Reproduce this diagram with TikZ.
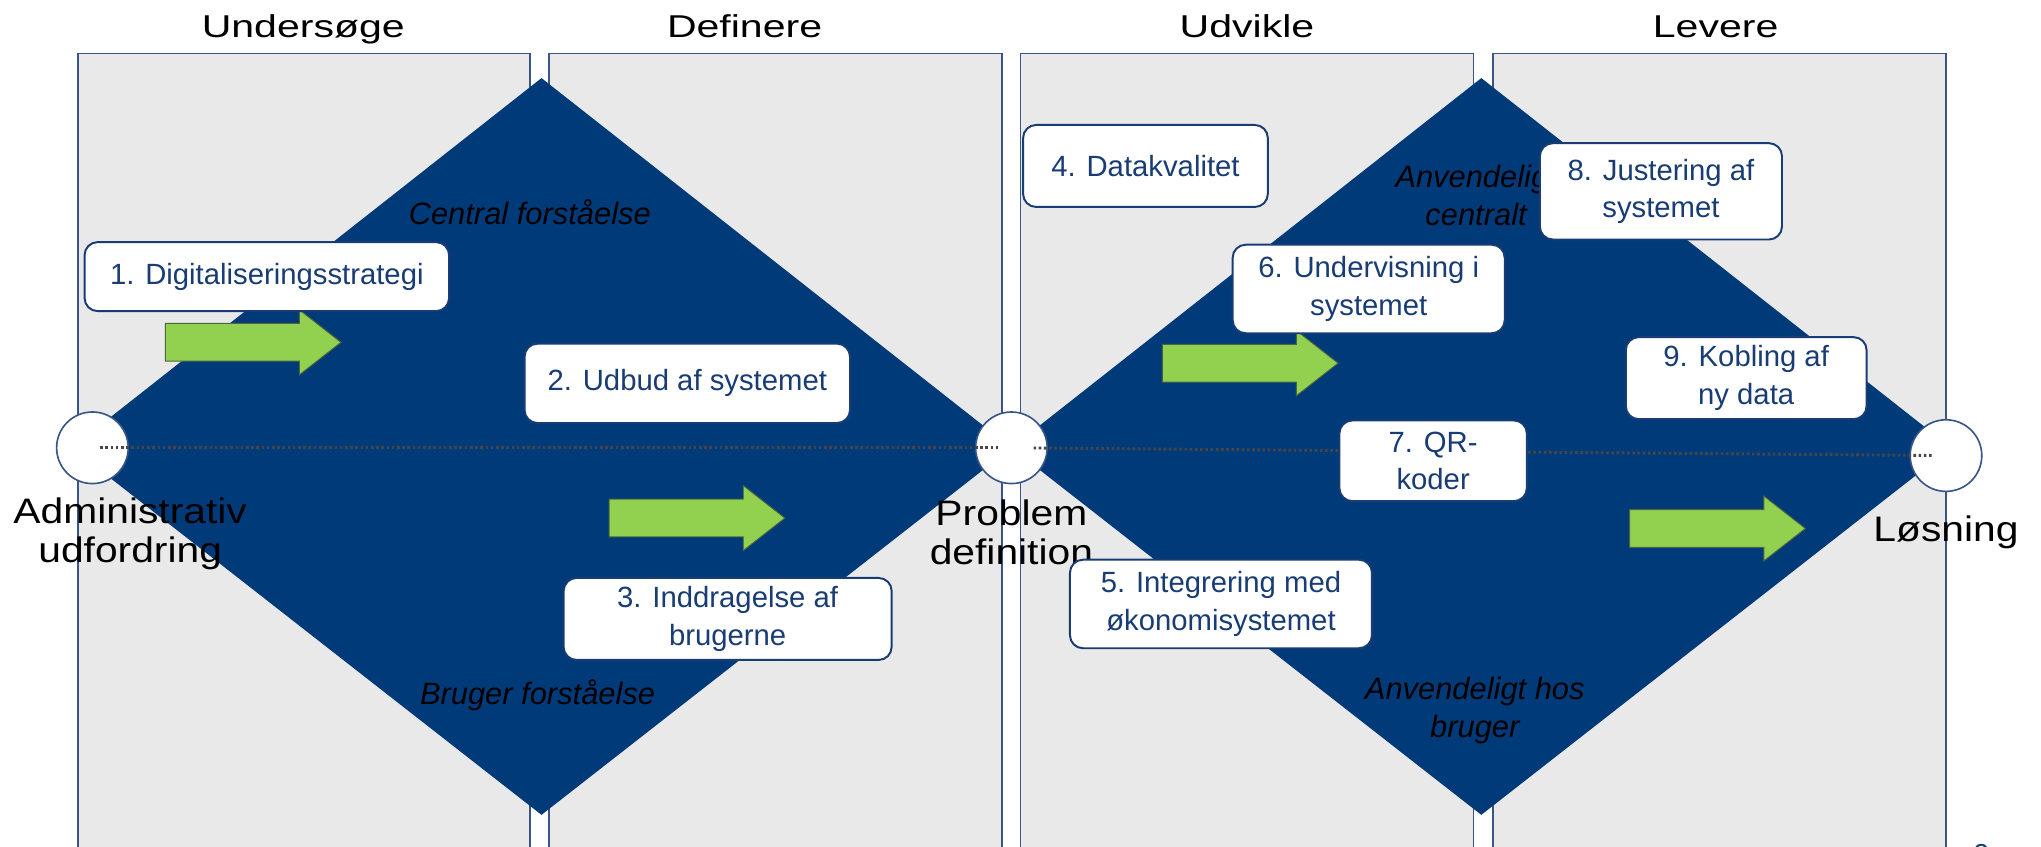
\documentclass[tikz,border=0pt]{standalone}
\usepackage{fontspec}
\setmainfont{Liberation Sans}
\newfontfamily\widefont{Liberation Sans}[FakeStretch=1.3]
\newfontfamily\labelfont{Liberation Sans}[FakeStretch=1.15]
\usetikzlibrary{positioning}

\definecolor{navy}{RGB}{0,58,120}
\definecolor{panelgray}{RGB}{233,233,233}
\definecolor{edgeblue}{RGB}{55,85,135}
\definecolor{boxblue}{RGB}{24,60,115}
\definecolor{leaf}{RGB}{146,208,80}
\definecolor{leafedge}{RGB}{75,100,65}
\definecolor{dotgray}{RGB}{70,70,70}

\begin{document}
\begin{tikzpicture}[x=0.2mm,y=-0.2mm,
   panel/.style={draw=edgeblue,line width=0.25mm,fill=panelgray},
   phase/.style={font=\widefont\fontsize{13.8}{16}\selectfont,anchor=base},
   task/.style={draw=boxblue,line width=0.3mm,fill=white,rounded corners=2mm,
      text=boxblue,align=center,inner sep=0pt,font=\fontsize{12.8}{16.5}\selectfont},
   focus/.style={font=\itshape\fontsize{13.5}{16.5}\selectfont,align=center},
   milestone/.style={circle,draw=edgeblue,line width=0.25mm,fill=white,
      minimum size=11mm,inner sep=0pt},
   biglabel/.style={font=\labelfont\fontsize{15.5}{17}\selectfont,align=center,inner sep=0pt},
   dotline/.style={draw=dotgray,line width=0.45mm,dash pattern=on 0.4mm off 0.4mm},
   arrowgreen/.style={fill=leaf,draw=leafedge,line width=0.15mm},
   pics/greenarrow/.style={code={
      \draw[arrowgreen] (0,-14.5) -- (103,-14.5) -- (103,-25) -- (135,0)
         -- (103,25) -- (103,14.5) -- (0,14.5) -- cycle;}}]
   \useasboundingbox (0,0) rectangle (1568,650);
   \clip (0,0) rectangle (1568,650);

   % phase panels
   \draw[panel] (60,41) rectangle (407,700);
   \draw[panel] (422,41) rectangle (770,700);
   \draw[panel] (784,41) rectangle (1132,700);
   \draw[panel] (1147,41) rectangle (1495,700);

   % double diamond
   \fill[navy] (55,344) -- (416,60) -- (777,344) -- (416,626) -- cycle;
   \fill[navy] (777,344) -- (1138,60) -- (1499,344) -- (1138,626) -- cycle;

   \node[focus] (cf) at (407,163) {Central forståelse};
   \node[focus] (bf) at (413,534) {Bruger forståelse};
   \node[focus] (ac) at (1134,150) {Anvendeligt\\centralt};
   \node[focus] (ab) at (1133,546) {Anvendeligt hos\\bruger};

   % milestones on the centre line
   \node[milestone] (c1) at (71,344) {};
   \node[milestone] (c2) at (777,344) {};
   \node[milestone] (c3) at (1495,350) {};
   \draw[dotline,shorten <=1.2mm,shorten >=1.8mm] (c1.center) -- (c2.center);
   \draw[dotline,shorten <=3.4mm,shorten >=2.2mm] (c2.center) -- (c3.center);

   \node[biglabel] (start) at (100,410) {Administrativ\\udfordring};
   \node[biglabel] (prob) [below=2.3mm of c2] {Problem\\definition};
   \node[biglabel] (sol) [below=3.5mm of c3] {Løsning};

   % green arrows
   \pic at (127,263) {greenarrow};
   \pic at (468,398) {greenarrow};
   \pic at (893,279) {greenarrow};
   \pic at (1252,406) {greenarrow};

   % activities
   \node[task,minimum width=56mm,minimum height=10.6mm] (t1) at (205,212.5) {1. Digitaliseringsstrategi};
   \node[task,minimum width=50mm,minimum height=12.2mm] (t2) at (528,294.5) {2. Udbud af systemet};
   \node[task,minimum width=50.4mm,minimum height=12.6mm] (t3) at (559,475.5) {3. Inddragelse af\\brugerne};
   \node[task,minimum width=37.6mm,minimum height=12.6mm] (t4) at (880,127.5) {4. Datakvalitet};
   \node[task,minimum width=46.4mm,minimum height=13.6mm] (t5) at (938,464) {5. Integrering med\\økonomisystemet};
   \node[task,minimum width=41.8mm,minimum height=13.6mm] (t6) at (1051.5,222) {6. Undervisning i\\systemet};
   \node[task,minimum width=28.8mm,minimum height=12.4mm] (t7) at (1101,354) {7. QR-\\koder};
   \node[task,minimum width=37.2mm,minimum height=14.8mm] (t8) at (1276,147) {8. Justering af\\systemet};
   \node[task,minimum width=37mm,minimum height=12.6mm] (t9) at (1341.5,290.5) {9. Kobling af\\ny data};

   % phase titles
   \node[phase] (ph1) at (233,29) {Undersøge};
   \node[phase] (ph2) at (572,29) {Definere};
   \node[phase] (ph3) at (958,29) {Udvikle};
   \node[phase] (ph4) at (1318,29) {Levere};

   \node[text=boxblue,font=\fontsize{12}{14}\selectfont,anchor=base] (pageno) at (1522,663) {2};
\end{tikzpicture}
\end{document}
